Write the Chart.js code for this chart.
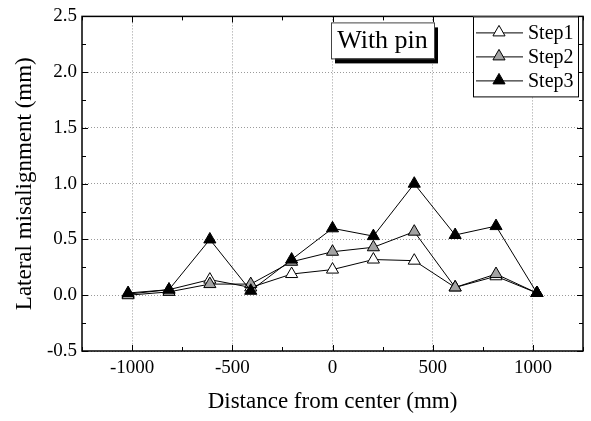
<!DOCTYPE html>
<html><head><meta charset="utf-8">
<script src="https://cdn.jsdelivr.net/npm/chart.js@4/dist/chart.umd.min.js"></script>
<style>html,body{margin:0;padding:0;background:#fff}</style>
</head><body>
<canvas id="c" width="591" height="421"></canvas>
<script>
const distances = [-1020, -816, -612, -408, -204, 0, 204, 408, 612, 816, 1020];
const step1 = [0.01, 0.05, 0.14, 0.07, 0.19, 0.23, 0.32, 0.31, 0.07, 0.17, 0.02];
const step2 = [0.00, 0.03, 0.10, 0.10, 0.30, 0.39, 0.43, 0.57, 0.07, 0.19, 0.02];
const step3 = [0.02, 0.05, 0.50, 0.04, 0.32, 0.60, 0.53, 1.00, 0.54, 0.62, 0.02];
const seriesNames = ['Step1', 'Step2', 'Step3'];
const xTickValues = [-1000, -500, 0, 500, 1000];
const yTickValues = [-0.5, 0.0, 0.5, 1.0, 1.5, 2.0, 2.5];
const xTitle = 'Distance from center (mm)';
const yTitle = 'Lateral misalignment (mm)';
const annotationText = 'With pin';

const FONT = '"Liberation Serif", "Times New Roman", serif';
const fills = ['#ffffff', '#a3a3a3', '#000000'];

function toPoints(vals) { return distances.map((d, i) => ({x: d, y: vals[i]})); }

const datasets = [step1, step2, step3].map((vals, i) => ({
  label: seriesNames[i],
  data: toPoints(vals),
  showLine: true,
  borderColor: '#000',
  borderWidth: 1,
  pointStyle: 'triangle',
  pointRadius: 7,
  pointHoverRadius: 7,
  pointBackgroundColor: fills[i],
  pointBorderColor: '#000',
  pointBorderWidth: 1,
  order: 3 - i
}));

function tri(ctx, x, y, r, fill) {
  ctx.beginPath();
  ctx.moveTo(x, y - r);
  ctx.lineTo(x + r * Math.sin(2 * Math.PI / 3), y + r / 2);
  ctx.lineTo(x - r * Math.sin(2 * Math.PI / 3), y + r / 2);
  ctx.closePath();
  ctx.fillStyle = fill; ctx.fill();
  ctx.lineWidth = 1; ctx.strokeStyle = '#000'; ctx.stroke();
}

const framePlugin = {
  id: 'frame',
  afterDraw(chart) {
    const ctx = chart.ctx, a = chart.chartArea;
    const xs = chart.scales.x, ys = chart.scales.y;
    ctx.save();
    ctx.strokeStyle = '#000';
    ctx.lineWidth = 1.5;
    ctx.strokeRect(a.left, a.top, a.right - a.left, a.bottom - a.top);
    ctx.lineWidth = 1;
    for (let v = xs.min; v <= xs.max + 1e-6; v += 250) {
      const px = Math.round(xs.getPixelForValue(v)) + 0.5;
      const major = Math.abs(v % 500) < 1e-6;
      const len = major ? 6 : 4;
      ctx.beginPath();
      ctx.moveTo(px, a.bottom); ctx.lineTo(px, a.bottom - len);
      ctx.moveTo(px, a.top); ctx.lineTo(px, a.top + len);
      ctx.stroke();
    }
    for (let v = ys.min; v <= ys.max + 1e-6; v += 0.25) {
      const py = Math.round(ys.getPixelForValue(v)) + 0.5;
      const major = Math.abs((v * 4) % 2) < 1e-6;
      const len = major ? 6 : 4;
      ctx.beginPath();
      ctx.moveTo(a.left, py); ctx.lineTo(a.left + len, py);
      ctx.moveTo(a.right, py); ctx.lineTo(a.right - len, py);
      ctx.stroke();
    }
    // annotation box
    const bx = a.left + 249, by = a.top + 6, bw = 103, bh = 36;
    ctx.fillStyle = '#000';
    ctx.fillRect(bx + 4, by + 5, bw, bh);
    ctx.fillStyle = '#fff';
    ctx.fillRect(bx, by, bw, bh);
    ctx.strokeStyle = '#444';
    ctx.lineWidth = 1;
    ctx.strokeRect(bx + 0.5, by + 0.5, bw, bh);
    ctx.fillStyle = '#000';
    ctx.font = '26px ' + FONT;
    ctx.textAlign = 'center';
    ctx.textBaseline = 'middle';
    ctx.fillText(annotationText, bx + bw / 2, by + bh / 2 + 1);
    // legend
    const lx = a.right - 110, ly = a.top, lw = 105, lh = 80;
    ctx.fillStyle = '#fff';
    ctx.fillRect(lx, ly, lw, lh);
    ctx.strokeStyle = '#000';
    ctx.strokeRect(lx + 0.5, ly + 0.5, lw, lh);
    ctx.font = '20px ' + FONT;
    ctx.textAlign = 'left';
    seriesNames.forEach((name, i) => {
      const yy = ly + 16 + i * 24;
      ctx.beginPath();
      ctx.strokeStyle = '#000';
      ctx.lineWidth = 1;
      ctx.moveTo(lx + 3, yy + 0.5); ctx.lineTo(lx + 50, yy + 0.5);
      ctx.stroke();
      tri(ctx, lx + 26, yy, 7, fills[i]);
      ctx.fillStyle = '#000';
      ctx.fillText(name, lx + 55, yy + 1);
    });
    ctx.restore();
  }
};

new Chart(document.getElementById('c'), {
  type: 'scatter',
  data: { datasets },
  options: {
    responsive: false,
    devicePixelRatio: 1,
    animation: false,
    layout: { padding: { top: 14, right: 4, left: 0, bottom: 0 } },
    plugins: { legend: { display: false }, tooltip: { enabled: false } },
    scales: {
      x: {
        type: 'linear', min: -1250, max: 1250,
        afterBuildTicks: s => { s.ticks = xTickValues.map(v => ({value: v})); },
        afterFit: s => { s.height = 70; },
        grid: { color: '#9a9a9a', lineWidth: 1, drawTicks: false },
        border: { display: false, dash: [1, 2] },
        ticks: { color: '#000', font: { family: FONT, size: 19 }, padding: 6, maxRotation: 0, callback: v => String(v) },
        title: { display: true, text: xTitle, color: '#000', font: { family: FONT, size: 23 }, padding: { top: 0, bottom: 5 } }
      },
      y: {
        type: 'linear', min: -0.5, max: 2.5,
        afterBuildTicks: s => { s.ticks = yTickValues.map(v => ({value: v})); },
        afterFit: s => { s.width = 82; },
        grid: { color: '#9a9a9a', lineWidth: 1, drawTicks: false },
        border: { display: false, dash: [1, 2] },
        ticks: { color: '#000', font: { family: FONT, size: 19 }, padding: 5, callback: v => Number(v).toFixed(1) },
        title: { display: true, text: yTitle, color: '#000', font: { family: FONT, size: 23 }, padding: { top: 11, bottom: 0 } }
      }
    }
  },
  plugins: [framePlugin]
});
</script>
</body></html>
